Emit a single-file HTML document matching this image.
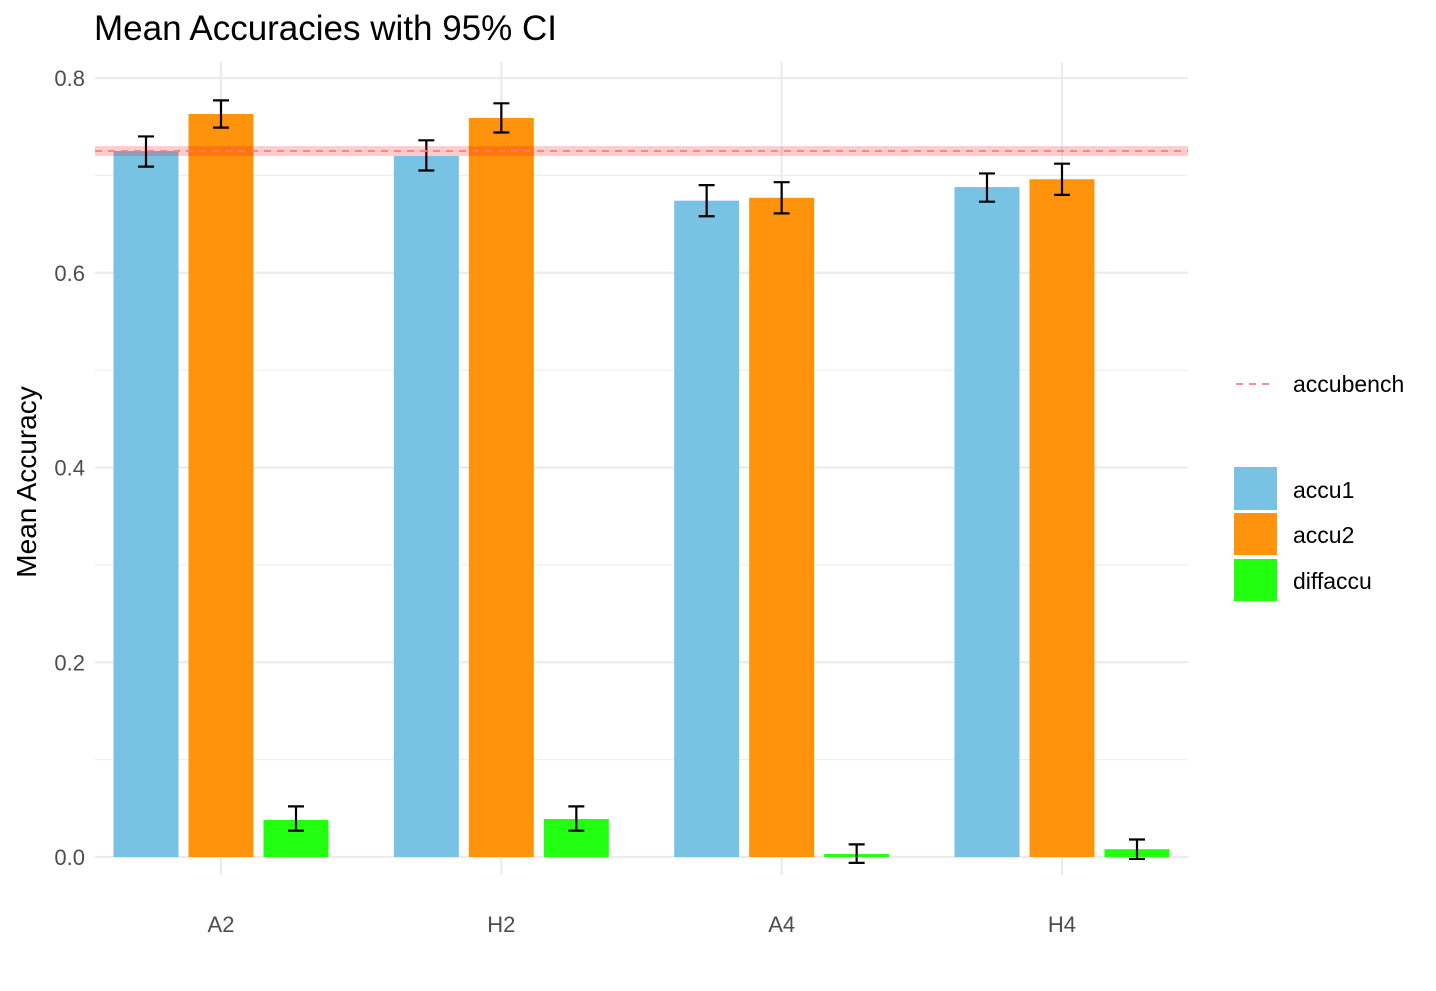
<!DOCTYPE html>
<html><head><meta charset="utf-8"><style>
body{margin:0;background:#fff;}
svg text{font-family:"Liberation Sans",Arial,sans-serif;}
</style></head><body>
<svg id="chart" width="1436" height="986">
<g id="grid"></g><g id="bars"></g><g id="err"></g><g id="axes"></g>
<text x="94" y="40" font-size="35" fill="#000">Mean Accuracies with 95% CI</text>
<text transform="translate(36,482) rotate(-90)" text-anchor="middle" font-size="28" fill="#000">Mean Accuracy</text>
<g>
<line x1="1236" y1="384" x2="1272" y2="384" stroke="#f08080" stroke-width="1.8" stroke-dasharray="7,6"/>
<text x="1293" y="392" font-size="23">accubench</text>
<rect x="1234" y="467" width="43" height="43" fill="#78c2e4"/>
<text x="1293" y="498" font-size="23">accu1</text>
<rect x="1234" y="513" width="43" height="42" fill="#ff930c"/>
<text x="1293" y="543" font-size="23">accu2</text>
<rect x="1234" y="559" width="43" height="42" fill="#22ff10"/>
<text x="1293" y="589" font-size="23">diffaccu</text>
</g>
</svg>
<script>
const categories=["A2","H2","A4","H4"];
const seriesNames=["accu1","accu2","diffaccu"];
const accu1=[0.725,0.720,0.674,0.688];
const accu2=[0.763,0.759,0.677,0.696];
const diffaccu=[0.038,0.039,0.003,0.008];
const accu1Lo=[0.709,0.705,0.658,0.673], accu1Hi=[0.740,0.736,0.690,0.702];
const accu2Lo=[0.749,0.744,0.661,0.680], accu2Hi=[0.777,0.774,0.693,0.712];
const diffLo=[0.027,0.027,-0.006,-0.002], diffHi=[0.052,0.052,0.013,0.018];
const yTicks=[0,0.2,0.4,0.6,0.8];
const yTickLabels=["0.0","0.2","0.4","0.6","0.8"];
const benchmark=0.725, benchLo=0.720, benchHi=0.730;

const NS="http://www.w3.org/2000/svg";
const colors=["#78c2e4","#ff930c","#22ff10"];
const vals=[accu1,accu2,diffaccu], los=[accu1Lo,accu2Lo,diffLo], his=[accu1Hi,accu2Hi,diffHi];
const y=v=>857-v*973.75;
const x=i=>221+i*280.33;
const L=95,R=1188,T=62,B=875;
function mk(p,tag,at){const e=document.createElementNS(NS,tag);for(const k in at)e.setAttribute(k,at[k]);document.getElementById(p).appendChild(e);return e;}
for(let v=0;v<=0.85;v+=0.1){
 const major=Math.round(v*10)%2===0;
 const l=mk('grid','line',{x1:L,x2:R,y1:y(v),y2:y(v),stroke:'#ebebeb','stroke-width':major?2.2:1.1});
 
 
}
yTicks.forEach((t,i)=>{
 const tx=mk('axes','text',{x:85,y:y(t)+8,'text-anchor':'end','font-size':22,fill:'#4d4d4d'});tx.textContent=yTickLabels[i];
 
 
});
categories.forEach((c,i)=>{
 const l=mk('grid','line',{x1:x(i),x2:x(i),y1:T,y2:B,stroke:'#ebebeb','stroke-width':2.2});
 
 
 const tx=mk('axes','text',{x:x(i),y:932,'text-anchor':'middle','font-size':22,fill:'#4d4d4d'});tx.textContent=c;
 
 
});
const band=mk('grid','rect',{x:L,y:y(benchHi),width:R-L,height:y(benchLo)-y(benchHi),fill:'rgba(255,0,0,0.2)'});
categories.forEach((c,i)=>{
 for(let s=0;s<3;s++){
  const cx=x(i)+(s-1)*75;
  const v=vals[s][i];
  const r=mk('bars','rect',{x:cx-32.5,y:Math.min(y(v),y(0)),width:65,height:Math.abs(y(0)-y(v)),fill:colors[s]});
  
  
  const yl=y(los[s][i]),yh=y(his[s][i]);
  const g=mk('err','path',{d:`M${cx-8},${yh}H${cx+8}M${cx},${yh}V${yl}M${cx-8},${yl}H${cx+8}`,stroke:'#000','stroke-width':2.2,fill:'none'});
  
  
 }
});
document.getElementById('err').appendChild(band);


const bl=mk('err','line',{x1:L,x2:R,y1:y(benchmark),y2:y(benchmark),stroke:'#f08080','stroke-width':1.8,'stroke-dasharray':'7,6'});


</script>
</body></html>
